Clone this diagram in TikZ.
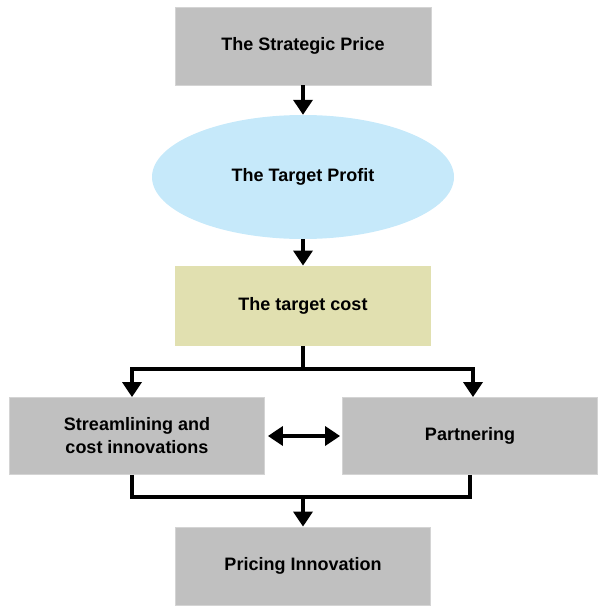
\documentclass[tikz,border=0pt]{standalone}
\usepackage{fontspec}
\setmainfont{Liberation Sans}
\usetikzlibrary{arrows.meta,shapes.geometric}
\definecolor{boxgray}{HTML}{C0C0C0}
\definecolor{boxedge}{HTML}{D4D4D4}
\definecolor{ellblue}{HTML}{C6E9FA}
\definecolor{costyel}{HTML}{E1E0B0}
\tikzset{
  lbl/.style={font=\fontsize{18}{23}\selectfont\bfseries},
  box/.style={rectangle, fill=boxgray, draw=boxedge, line width=0.8pt, minimum width=256pt, minimum height=78pt, align=center, lbl, inner sep=0pt},
  conn/.style={line width=3.5pt, black},
  arr/.style={conn, -{Triangle[width=19pt,length=15pt]}},
  darr/.style={conn, {Triangle[width=19pt,length=15pt]}-{Triangle[width=19pt,length=15pt]}},
}
\begin{document}
\begin{tikzpicture}[x=1pt,y=-1pt]
\useasboundingbox (0,0) rectangle (609,610);
\node[box] (sp) at (303,46) {The Strategic Price};
\node[ellipse, fill=ellblue, draw=none, minimum width=302pt, minimum height=124pt, lbl] (tp) at (303,177) {The Target Profit};
\node[box, fill=costyel, draw=none, minimum height=80pt] (tc) at (303,306) {The target cost};
\node[box, minimum width=255pt, minimum height=77pt] (sc) at (137,436) {Streamlining and\\cost innovations};
\node[box, minimum width=255pt, minimum height=77pt] (pa) at (470,436) {Partnering};
\node[box, minimum width=255pt] (pi) at (303,566) {Pricing Innovation};
\coordinate (j1) at (303,369);
\coordinate (j2) at (303,497);
\draw[arr] (sp.south) -- (tp.north);
\draw[arr] (tp.south) -- (tc.north);
\draw[conn] (tc.south) -- (j1);
\draw[arr] (j1) -| ([xshift=-5pt]sc.north);
\draw[arr] (j1) -| ([xshift=3pt]pa.north);
\draw[darr, shorten <=3pt, shorten >=2pt] (sc.east) -- (pa.west);
\draw[conn] ([xshift=-5pt]sc.south) |- (j2);
\draw[conn] ([xshift=0pt]pa.south) |- (j2);
\draw[arr] (j2) -- (pi.north);
\end{tikzpicture}
\end{document}
